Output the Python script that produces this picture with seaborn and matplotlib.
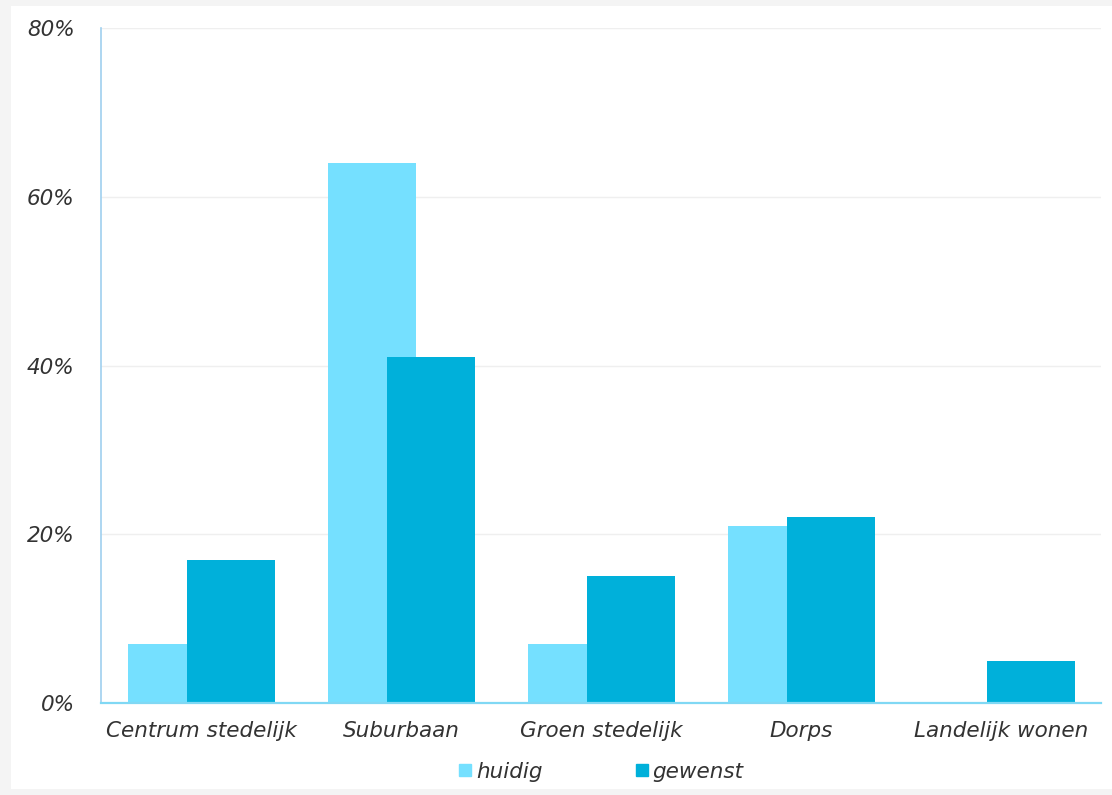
import matplotlib
matplotlib.use("Agg")
import matplotlib.pyplot as plt
import seaborn as sns
import pandas as pd
from matplotlib.patches import Rectangle
from matplotlib.lines import Line2D

categories = ["Centrum stedelijk", "Suburbaan", "Groen stedelijk", "Dorps", "Landelijk wonen"]
huidig = [7, 64, 7, 21, 0]
gewenst = [17, 41, 15, 22, 5]
series_names = ["huidig", "gewenst"]
yticks = [0, 20, 40, 60, 80]
ytick_labels = ["0%", "20%", "40%", "60%", "80%"]

c_huidig = "#75E0FF"
c_gewenst = "#00B0DA"

df = pd.DataFrame({
    "cat": categories * 2,
    "serie": [series_names[0]] * len(categories) + [series_names[1]] * len(categories),
    "val": huidig + gewenst,
})

sns.set_theme(style="white")
plt.rcParams["font.family"] = ["DejaVu Sans"]

fig = plt.figure(figsize=(11.12, 7.95), dpi=100)
fig.patch.set_facecolor("#f4f4f4")
fig.patches.append(Rectangle((11 / 1112, 1 - 789 / 795), (1112 - 11) / 1112, (789 - 6) / 795,
                             transform=fig.transFigure, facecolor="white", edgecolor="none", zorder=-5))

ax = fig.add_axes([101 / 1112, 1 - 703 / 795, 1000 / 1112, (703 - 28) / 795])
ax.set_facecolor("none")

sns.barplot(data=df, x="cat", y="val", hue="serie", order=categories, hue_order=series_names,
            palette=[c_huidig, c_gewenst], width=0.59, dodge=True, ax=ax, legend=False,
            saturation=1, errorbar=None)

# widen bars so they overlap like the reference
new_w = 0.44
for p in ax.patches:
    cx = p.get_x() + p.get_width() / 2
    p.set_width(new_w)
    p.set_x(cx - new_w / 2)
    p.set_linewidth(0)

ax.set_xlim(-0.5, len(categories) - 0.5)
ax.set_ylim(0, 80)
ax.set_yticks(yticks)
ax.set_yticklabels(ytick_labels)
ax.set_xlabel("")
ax.set_ylabel("")
ax.yaxis.grid(True, color="#efefef", linewidth=1)
ax.set_axisbelow(True)
for s in ["top", "right"]:
    ax.spines[s].set_visible(False)
ax.spines["left"].set_color("#9fd0ef")
ax.spines["bottom"].set_color("#80d8f4")
ax.spines["left"].set_linewidth(1.2)
ax.spines["bottom"].set_linewidth(1.6)
ax.tick_params(axis="both", length=0, labelsize=15.5, colors="#333333")
ax.tick_params(axis="y", pad=19)
ax.tick_params(axis="x", pad=13)
for lab in ax.get_xticklabels() + ax.get_yticklabels():
    lab.set_fontstyle("italic")

handles = [Line2D([0], [0], marker="s", linestyle="none", markersize=8, markerfacecolor=c,
                  markeredgecolor=c) for c in [c_huidig, c_gewenst]]
leg = fig.legend(handles, series_names, loc="center", bbox_to_anchor=(600 / 1112, 1 - 772 / 795),
                 ncol=2, frameon=False, handletextpad=0.1, columnspacing=4.2,
                 prop={"style": "italic", "size": 15.5}, handlelength=0.8)
for t in leg.get_texts():
    t.set_color("#333333")

fig.savefig("out.png", dpi=100, facecolor=fig.get_facecolor())
